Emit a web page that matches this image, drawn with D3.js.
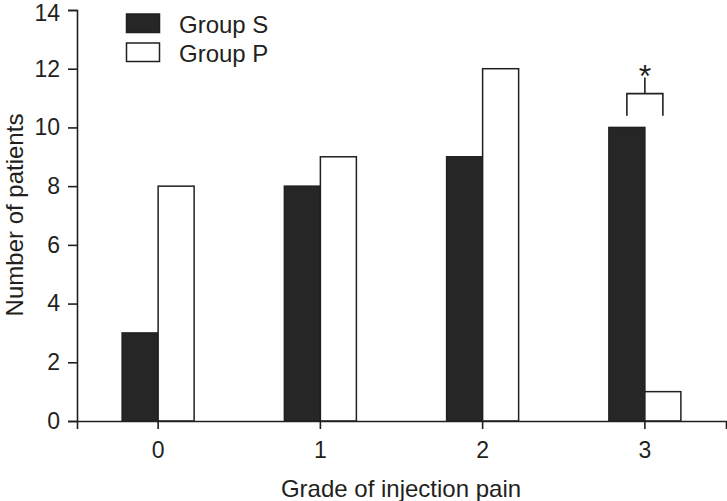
<!DOCTYPE html>
<html>
<head>
<meta charset="utf-8">
<script src="https://cdn.jsdelivr.net/npm/d3@7"></script>
<style>
  html, body { margin: 0; padding: 0; background: #fff; }
  svg { display: block; }
  text { font-family: "Liberation Sans", Arial, Helvetica, sans-serif; fill: #231f20; }
</style>
</head>
<body>
<svg id="chart" width="727" height="501"></svg>
<script>
// ---- data ----
const categories = ["0", "1", "2", "3"];
const groups = ["Group S", "Group P"];
const groupS = [3, 8, 9, 10];
const groupP = [8, 9, 12, 1];
const yTicks = [0, 2, 4, 6, 8, 10, 12, 14];
const xTitle = "Grade of injection pain";
const yTitle = "Number of patients";
// significance bracket: category, leg bottom, bracket top, stem top, label
const sigCategory = ["3"];
const sigLevels = [10.4, 11.15, 11.7];
const sigLabel = ["*"];

const ink = "#231f20";
const svg = d3.select("#chart");

const x0 = d3.scaleBand().domain(categories).range([77, 726]).padding(0);
const half = 36;
const x1 = d3.scaleBand().domain(groups)
  .range([x0.bandwidth() / 2 - half, x0.bandwidth() / 2 + half]).padding(0);
const y = d3.scaleLinear().domain([0, 14]).range([421, 10]);

const rows = categories.map((c, i) => ({ cat: c, vals: [groupS[i], groupP[i]] }));

// bars
const g = svg.append("g");
rows.forEach(r => {
  groups.forEach((grp, j) => {
    g.append("rect")
      .attr("x", x0(r.cat) + x1(grp))
      .attr("y", y(r.vals[j]))
      .attr("width", x1.bandwidth())
      .attr("height", y(0) - y(r.vals[j]))
      .attr("fill", j === 0 ? "#262626" : "#ffffff")
      .attr("stroke", ink)
      .attr("stroke-width", 1.5);
  });
});

// axes
const xAxis = d3.axisBottom(x0).tickSize(8).tickPadding(13);
const yAxis = d3.axisLeft(y).tickValues(yTicks).tickSize(9).tickPadding(8);

const gx = svg.append("g").attr("transform", `translate(0,${y(0)})`).call(xAxis);
const gy = svg.append("g").attr("transform", `translate(77,0)`).call(yAxis);
[gx, gy].forEach(a => {
  a.selectAll("path, line").attr("stroke", ink).attr("stroke-width", 1.6);
  a.selectAll("text").attr("font-size", 23).attr("fill", ink)
    .attr("font-family", '"Liberation Sans", Arial, sans-serif');
});
gy.selectAll(".tick text").filter(d => d === 14).attr("dy", "0.45em");

// titles
svg.append("text").attr("x", 401).attr("y", 497)
  .attr("text-anchor", "middle").attr("font-size", 24).text(xTitle);
svg.append("text").attr("transform", "translate(22.5,215) rotate(-90)")
  .attr("text-anchor", "middle").attr("font-size", 24).text(yTitle);

// legend
const leg = svg.append("g");
groups.forEach((grp, j) => {
  leg.append("rect").attr("x", 126.5).attr("y", 14 + j * 29)
    .attr("width", 33).attr("height", 18.5)
    .attr("fill", j === 0 ? "#262626" : "#fff")
    .attr("stroke", ink).attr("stroke-width", 1.5);
  leg.append("text").attr("x", 179).attr("y", 33 + j * 28.5)
    .attr("font-size", 24).text(grp);
});

// significance bracket
sigCategory.forEach((c, k) => {
  const xl = x0(c) + x1(groups[0]) + x1.bandwidth() / 2;
  const xr = x0(c) + x1(groups[1]) + x1.bandwidth() / 2;
  const xm = x0(c) + x0.bandwidth() / 2;
  const path = d3.path();
  path.moveTo(xl, y(sigLevels[0]));
  path.lineTo(xl, y(sigLevels[1]));
  path.lineTo(xr, y(sigLevels[1]));
  path.lineTo(xr, y(sigLevels[0]));
  path.moveTo(xm, y(sigLevels[1]));
  path.lineTo(xm, y(sigLevels[2]));
  svg.append("path").attr("d", path.toString())
    .attr("fill", "none").attr("stroke", ink).attr("stroke-width", 1.6);
  svg.append("text").attr("x", xm).attr("y", y(sigLevels[2]) + 9)
    .attr("text-anchor", "middle").attr("font-size", 32).text(sigLabel[k]);
});
</script>
</body>
</html>
